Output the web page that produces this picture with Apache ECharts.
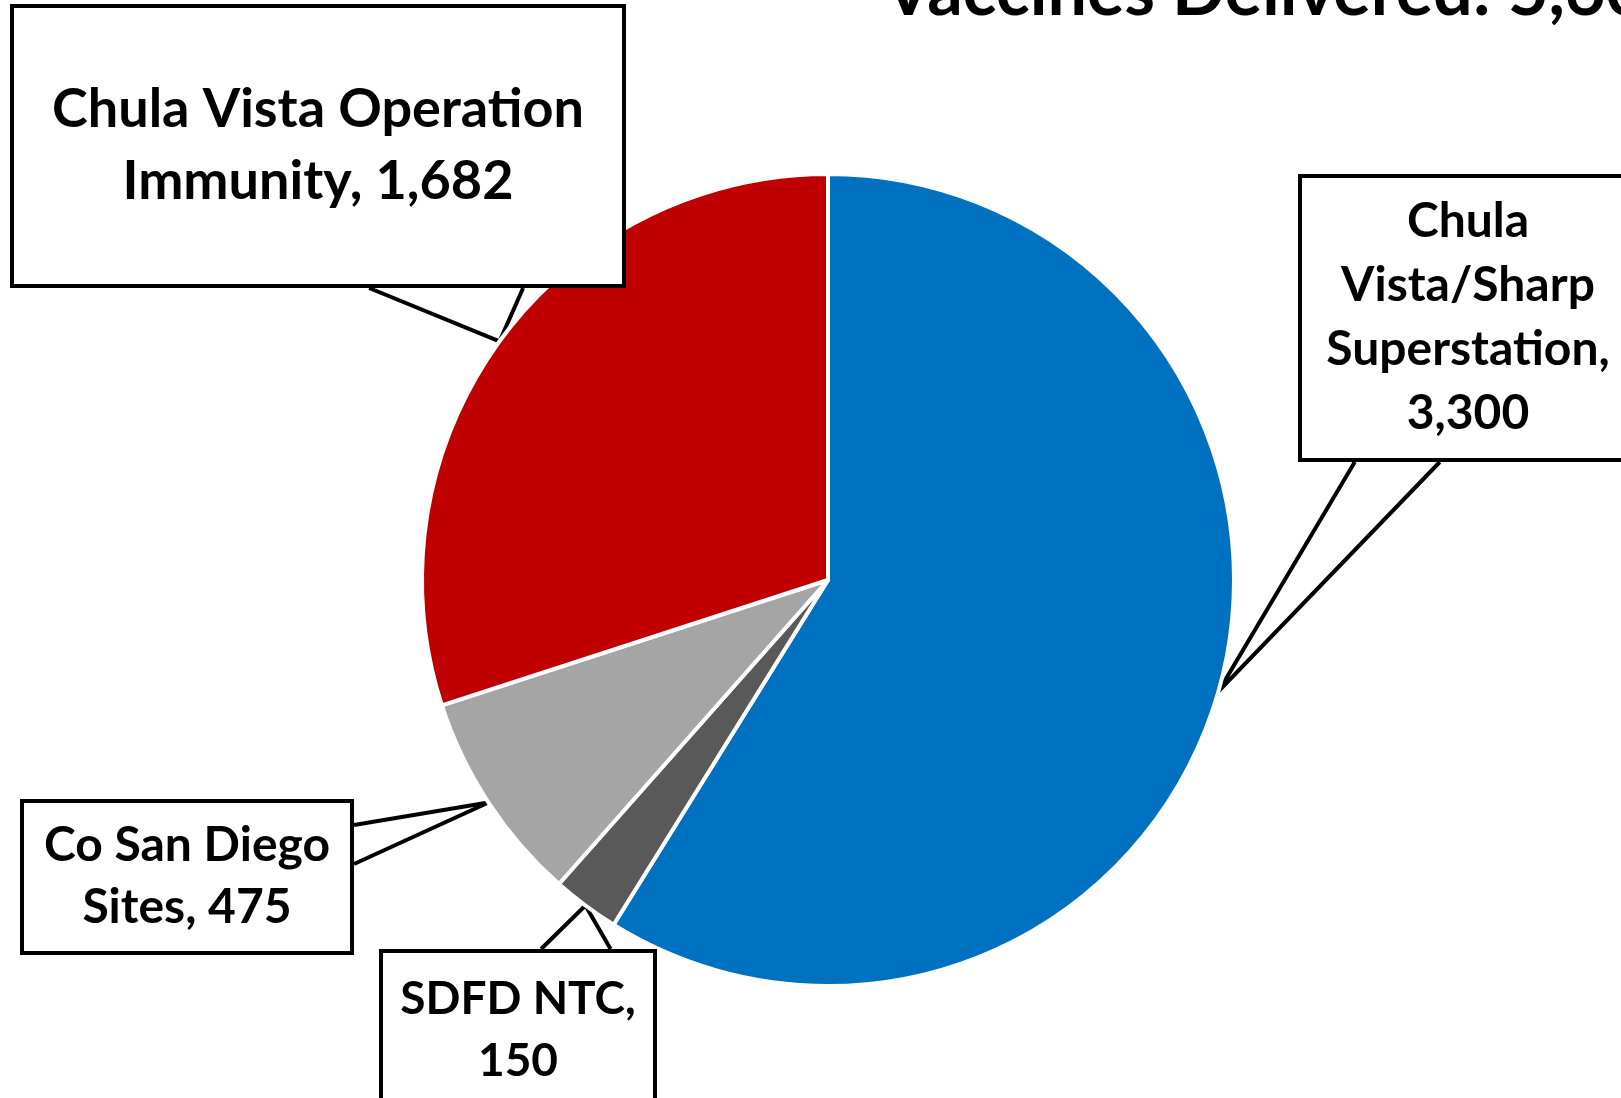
<!DOCTYPE html>
<html>
<head>
<meta charset="utf-8">
<title>Vaccines Delivered</title>
<script src="https://cdn.jsdelivr.net/npm/echarts@6/dist/echarts.min.js"></script>
<style>
  html, body { margin: 0; padding: 0; background: #fff; }
  #chart { width: 1621px; height: 1098px; }
</style>
</head>
<body>
<div id="chart"></div>
<script>
// data (line breaks are the ones used in the callouts)
const siteNames = ['Chula\nVista/Sharp\nSuperstation', 'SDFD NTC', 'Co San Diego\nSites', 'Chula Vista Operation\nImmunity'];
const deliveredValues = [3300, 150, 475, 1682];
const valueOnOwnLine = [true, true, false, false];
const sliceColors = ['#0070C0', '#595959', '#A5A5A5', '#C00000'];

// callout boxes (box centre, text width, font, padding) - same order as the data
const callouts = [
  { cx: 1468, cy: 318, width: 300, fontSize: 48, lineHeight: 64, padding: [12, 16] },
  { cx: 518, cy: 1030, width: 240, fontSize: 46, lineHeight: 62, padding: [15, 15] },
  { cx: 187, cy: 877, width: 290, fontSize: 48, lineHeight: 62, padding: [12, 18] },
  { cx: 318, cy: 146, width: 590, fontSize: 54, lineHeight: 72, padding: [66, 9] }
];

const total = deliveredValues.reduce((a, b) => a + b, 0);
const fmt = v => v.toLocaleString('en-US');

const myChart = echarts.init(document.getElementById('chart'));

const pieData = siteNames.map((name, i) => ({
  name: name,
  value: deliveredValues[i],
  itemStyle: { color: sliceColors[i] },
  label: {
    width: callouts[i].width,
    fontSize: callouts[i].fontSize,
    lineHeight: callouts[i].lineHeight,
    padding: callouts[i].padding
  }
}));

// put the box where it was and draw the callout wedge: box edge -> tip on the slice -> box edge
function calloutLayout(params) {
  const c = callouts[params.dataIndex];
  const w = params.labelRect.width;
  const h = params.labelRect.height;
  const tip = params.labelLinePoints[0];
  const left = c.cx - w / 2;
  const top = c.cy - h / 2;
  const dx = (tip[0] - c.cx) / (w / 2);
  const dy = (tip[1] - c.cy) / (h / 2);
  let a, b;
  if (Math.abs(dy) > Math.abs(dx)) {
    const ey = dy > 0 ? top + h : top;
    const f = tip[0] > c.cx ? [0.583, 0.833] : [0.167, 0.417];
    a = [left + f[0] * w, ey];
    b = [left + f[1] * w, ey];
  } else {
    const ex = dx > 0 ? left + w : left;
    const f = tip[1] > c.cy ? [0.583, 0.833] : [0.167, 0.417];
    a = [ex, top + f[0] * h];
    b = [ex, top + f[1] * h];
  }
  return {
    x: c.cx,
    y: c.cy,
    align: 'center',
    verticalAlign: 'middle',
    labelLinePoints: [a, tip, b]
  };
}

const option = {
  animation: false,
  title: {
    text: 'Vaccines Delivered: ' + fmt(total),
    left: 879,
    top: -48,
    textStyle: {
      fontFamily: 'Lato',
      fontWeight: 'bold',
      fontSize: 70,
      color: '#000'
    }
  },
  series: [
    {
      type: 'pie',
      center: [828, 580],
      radius: 406,
      startAngle: 90,
      clockwise: true,
      avoidLabelOverlap: false,
      emphasis: { disabled: true },
      itemStyle: {
        borderColor: '#fff',
        borderWidth: 4
      },
      label: {
        show: true,
        position: 'outside',
        formatter: p => p.name + (valueOnOwnLine[p.dataIndex] ? ',\n' : ', ') + fmt(p.value),
        fontFamily: 'Lato',
        fontWeight: 'bold',
        color: '#000',
        align: 'center',
        backgroundColor: '#fff',
        borderColor: '#000',
        borderWidth: 4
      },
      labelLine: {
        show: true,
        smooth: false,
        lineStyle: { color: '#000', width: 4 }
      },
      labelLayout: calloutLayout,
      data: pieData
    }
  ]
};

myChart.setOption(option);
window.addEventListener('resize', function () {
  myChart.resize();
});
</script>
</body>
</html>
